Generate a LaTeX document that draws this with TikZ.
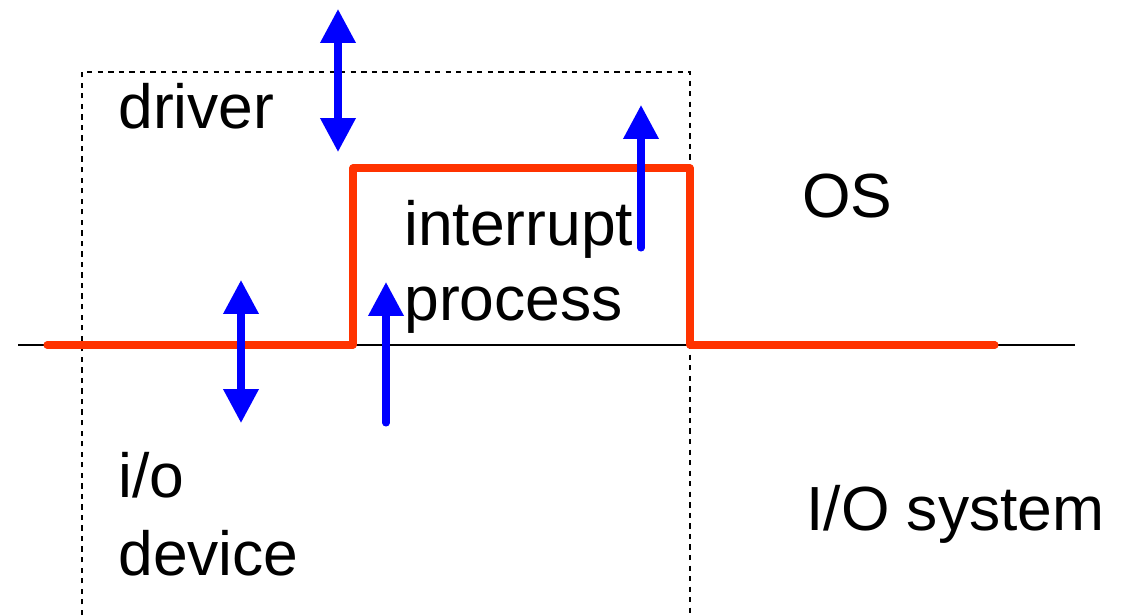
\documentclass[tikz,border=0pt]{standalone}
\usepackage{fontspec}
\setmainfont{Liberation Sans}
\usetikzlibrary{arrows.meta}

\definecolor{sigred}{HTML}{FF3300}
\definecolor{sigblue}{HTML}{0000FF}

\tikzset{
  lbl/.style={anchor=base west, inner sep=0pt, font=\fontsize{35.5}{42}\selectfont},
  flow/.style={sigblue, line width=4pt, line cap=round,
    -{Triangle[length=0.68cm,width=0.68cm]}},
  twoway/.style={sigblue, line width=4pt,
    {Triangle[length=0.68cm,width=0.68cm]}-{Triangle[length=0.68cm,width=0.68cm]}},
}

\begin{document}
\begin{tikzpicture}[x=0.02cm, y=-0.02cm]
  \useasboundingbox (0,0) rectangle (1131,615);

  % Levels
  \def\lo{345}
  \def\hi{168}
  \def\up{353}
  \def\dn{690}

  % Driver box (open at the bottom)
  \draw[line width=0.8pt, dash pattern=on 3pt off 3pt]
    (82,615) -- (82,72) -- (\dn,72) -- (\dn,615);

  % Border between OS and I/O system
  \draw[line width=0.8pt] (18,\lo) -- (1075,\lo);

  % Signal
  \draw[sigred, line width=4pt, line cap=round, line join=round]
    (47,\lo) -- (\up,\lo) -- (\up,\hi) -- (\dn,\hi) -- (\dn,\lo) -- (995,\lo);

  % Labels
  \node[lbl] (drv) at (118,128) {driver};
  \node[lbl] (int) at (404,245) {interrupt};
  \node[lbl] (proc) at (404,320) {process};
  \node[lbl] (os) at (802,217) {OS};
  \node[lbl] (io) at (118,497) {i/o};
  \node[lbl] (dev) at (118,575) {device};
  \node[lbl] (iosys) at (806,530) {I/O system};

  % Arrows
  \coordinate (a1) at (338,9);   \coordinate (b1) at (338,152);
  \coordinate (a2) at (241,280); \coordinate (b2) at (241,423);
  \coordinate (a3) at (386,423); \coordinate (b3) at (386,282);
  \coordinate (a4) at (641,248); \coordinate (b4) at (641,105);

  \draw[twoway] (a1) -- (b1);
  \draw[twoway] (a2) -- (b2);
  \draw[flow] (a3) -- (b3);
  \draw[flow] (a4) -- (b4);
\end{tikzpicture}
\end{document}
